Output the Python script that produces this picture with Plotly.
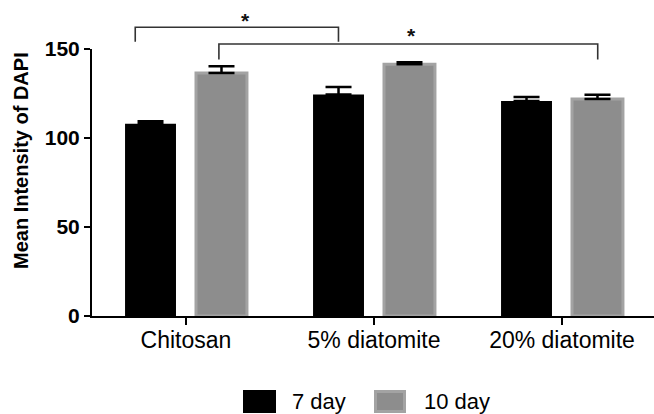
import plotly.graph_objects as go

categories = ["Chitosan", "5% diatomite", "20% diatomite"]
series_names = ["7 day", "10 day"]
day7 = [108.0, 124.5, 120.8]
day7_err = [1.4, 4.1, 2.3]
day10 = [136.5, 141.4, 121.9]
day10_err = [3.8, 1.1, 2.4]
y_ticks = [0, 50, 100, 150]

# significance brackets: (x_left, x_right, y_bar, y_leg_end, star_x, star_y)
brackets = [
    (-0.27, 0.811, 162.2, 154.1, 0.314, 165.8),
    (0.175, 2.19, 152.8, 144.1, 1.197, 157.8),
]

FONT = "Liberation Sans, Arial, sans-serif"
W, H = 654, 414
L, R, T, B = 92, 0, 49, 98
PW, PH = W - L - R, H - T - B
YMAX = 150.0
XMIN = -0.5
XMAX = XMIN + PW / 188.0

def px_x(px):
    return (px - L) / PW

def px_y(py):
    return (H - B - py) / PH

fig = go.Figure()
fig.add_trace(go.Bar(
    x=categories, y=day7, name=series_names[0],
    marker=dict(color="#000000", line=dict(width=0)),
    error_y=dict(type="data", array=day7_err, arrayminus=[0] * len(day7_err),
                 color="#000000", thickness=2.5, width=13),
    showlegend=False,
))
fig.add_trace(go.Bar(
    x=categories, y=day10, name=series_names[1],
    marker=dict(color="#8d8d8d", line=dict(color="#a3a3a3", width=3)),
    error_y=dict(type="data", array=day10_err, arrayminus=[0] * len(day10_err),
                 color="#000000", thickness=2.5, width=13),
    showlegend=False,
))

shapes = []
annotations = []
for xl, xr, yb, yl, sx, sy in brackets:
    path = (f"M {xl},{yl / YMAX} L {xl},{yb / YMAX} L {xr},{yb / YMAX} L {xr},{yl / YMAX}")
    shapes.append(dict(type="path", xref="x", yref="paper", path=path,
                       line=dict(color="#333333", width=1.6)))
    annotations.append(dict(x=sx, y=sy / YMAX, xref="x", yref="paper", text="<b>*</b>",
                            showarrow=False, font=dict(family=FONT, size=21, color="#111111"),
                            xanchor="center", yanchor="middle"))

# y axis title
annotations.append(dict(x=px_x(21), y=px_y(161), xref="paper", yref="paper",
                        text="<b>Mean Intensity of DAPI</b>", textangle=-90, showarrow=False,
                        font=dict(family=FONT, size=20, color="#000000"),
                        xanchor="center", yanchor="middle"))

# manual legend
legend_items = [
    (series_names[0], "#000000", None, 243, 276, 290),
    (series_names[1], "#8d8d8d", "#a3a3a3", 374, 406, 422),
]
for name, fill, edge, x0, x1, tx in legend_items:
    shapes.append(dict(type="rect", xref="paper", yref="paper",
                       x0=px_x(x0 + (1.5 if edge else 0)), x1=px_x(x1 - (1.5 if edge else 0)),
                       y0=px_y(390 + (1.5 if edge else 0)), y1=px_y(413 - (1.5 if edge else 0)),
                       fillcolor=fill,
                       line=dict(color=edge if edge else fill, width=3 if edge else 0)))
    annotations.append(dict(x=px_x(tx), y=px_y(401), xref="paper", yref="paper", text=name,
                            showarrow=False, font=dict(family=FONT, size=22, color="#000000"),
                            xanchor="left", yanchor="middle"))

fig.update_layout(
    width=W, height=H,
    margin=dict(l=L, r=R, t=T, b=B, pad=0),
    paper_bgcolor="white", plot_bgcolor="white",
    barmode="group", bargap=0.245, bargroupgap=0.282,
    shapes=shapes, annotations=annotations,
    showlegend=False,
    font=dict(family=FONT, color="#000000"),
)
fig.update_xaxes(
    range=[XMIN, XMAX], showgrid=False, zeroline=False,
    showline=True, linecolor="#000000", linewidth=2,
    ticks="outside", ticklen=7, tickwidth=2, tickcolor="#000000",
    ticklabelstandoff=-5,
    tickfont=dict(family=FONT, size=23, color="#000000"),
)
fig.update_yaxes(
    range=[0, YMAX], tickvals=y_ticks, ticktext=[f"<b>{v}</b>" for v in y_ticks],
    showgrid=False, zeroline=False,
    showline=True, linecolor="#000000", linewidth=2,
    ticks="outside", ticklen=6, tickwidth=2, tickcolor="#000000",
    tickfont=dict(family=FONT, size=21, color="#000000"),
)

fig.write_html("out.html")
